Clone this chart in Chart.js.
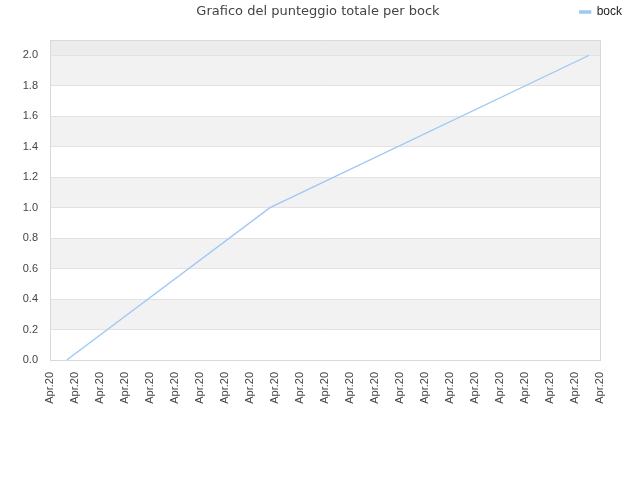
<!DOCTYPE html>
<html><head><meta charset="utf-8">
<script src="https://cdn.jsdelivr.net/npm/chart.js@4.4.1/dist/chart.umd.min.js"></script>
<style>html,body{margin:0;padding:0;background:#fff}#wrap{width:640px;height:480px}</style>
</head><body><div id="wrap"><canvas id="c" width="640" height="480"></canvas></div>
<script>
const chartTitle = 'Grafico del punteggio totale per bock';
const seriesName = 'bock';
const tickLabel = 'Apr.20';
const xPositions = [0.67, 8.8, 21.57];
const scores = [0, 1, 2];
const xMin = 0, xMax = 22, xStep = 1;
const yMin = 0, yMax = 2.1, yStep = 0.2, yLastTick = 2.0;

const lineColor = '#9ec8f4';
const points = xPositions.map((x, i) => ({x: x, y: scores[i]}));

const bandPlugin = {
  id: 'bands',
  beforeDraw(chart) {
    const {ctx, chartArea: a, scales: {y}} = chart;
    ctx.save();
    ctx.fillStyle = '#ececec';
    ctx.fillRect(a.left, a.top, a.right - a.left, a.bottom - a.top);
    const t = y.ticks.map(k => k.value);
    for (let i = 0; i < t.length - 1; i++) {
      const y0 = y.getPixelForValue(t[i]), y1 = y.getPixelForValue(t[i + 1]);
      ctx.fillStyle = i % 2 === 1 ? '#f2f2f2' : '#ffffff';
      ctx.fillRect(a.left, y1, a.right - a.left, y0 - y1);
    }
    ctx.restore();
  },
  beforeDatasetsDraw(chart) {
    const {ctx, chartArea: a} = chart;
    ctx.save();
    ctx.strokeStyle = '#d9d9d9';
    ctx.lineWidth = 1;
    ctx.beginPath();
    ctx.moveTo(a.left, Math.round(a.top) + 0.5);
    ctx.lineTo(Math.round(a.right) + 0.5, Math.round(a.top) + 0.5);
    ctx.lineTo(Math.round(a.right) + 0.5, a.bottom);
    ctx.stroke();
    ctx.restore();
  }
};

const tickFont = {family: 'Liberation Sans', size: 11};

new Chart(document.getElementById('c'), {
  type: 'line',
  data: {
    datasets: [{
      label: seriesName,
      data: points,
      borderColor: lineColor,
      backgroundColor: lineColor,
      borderWidth: 1.3,
      pointRadius: 0,
      tension: 0,
      xAxisID: 'x',
      yAxisID: 'y'
    }]
  },
  options: {
    responsive: false,
    animation: false,
    layout: {padding: {left: 8, right: 12}},
    plugins: {
      title: {
        display: true,
        text: chartTitle,
        color: '#444',
        font: {family: 'DejaVu Sans', size: 13, weight: 'normal'},
        padding: {top: 4.2, bottom: -19.8}
      },
      legend: {
        display: true,
        position: 'top',
        align: 'end',
        labels: {
          boxWidth: 11,
          boxHeight: 2,
          padding: 6,
          color: '#222',
          font: {family: 'Liberation Sans', size: 12}
        }
      },
      tooltip: {enabled: false}
    },
    scales: {
      x: {
        type: 'linear',
        position: 'bottom',
        min: xMin, max: xMax,
        grid: {display: false, drawTicks: false},
        border: {display: true, color: '#d9d9d9'},
        ticks: {
          stepSize: xStep,
          autoSkip: false,
          maxRotation: 90, minRotation: 90,
          padding: 12,
          color: '#444',
          font: tickFont,
          callback: () => tickLabel
        },
        afterFit: s => { s.height = 120; }
      },
      y: {
        type: 'linear',
        position: 'left',
        min: yMin, max: yMax,
        grid: {color: '#e2e2e2', drawTicks: false},
        border: {display: true, color: '#d9d9d9'},
        ticks: {
          stepSize: yStep,
          padding: 12,
          color: '#444',
          font: tickFont,
          callback: v => Number(v).toFixed(1)
        },
        afterBuildTicks: s => { s.ticks = s.ticks.filter(t => t.value <= yLastTick + 1e-9); },
        afterFit: s => { s.width = 42; }
      },
      xTop: {
        type: 'linear', position: 'top', display: true, min: 0, max: 1,
        grid: {display: false}, border: {display: false}, ticks: {display: false},
        afterFit: s => { s.height = 12; }
      },
      yRight: {
        type: 'linear', position: 'right', display: true, min: 0, max: 1,
        grid: {display: false}, border: {display: false}, ticks: {display: false},
        afterFit: s => { s.width = 28; }
      }
    }
  },
  plugins: [bandPlugin]
});
</script>
</body></html>
